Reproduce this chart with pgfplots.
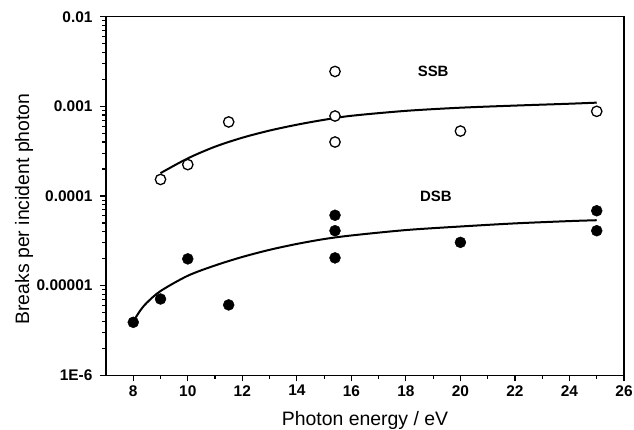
\documentclass[border=0pt]{standalone}
\usepackage{fontspec}
\setmainfont{Liberation Sans}
\usepackage{pgfplots}
\pgfplotsset{compat=1.18}
\begin{document}
\begin{tikzpicture}
\begin{axis}[
  scale only axis, width=518bp, height=358.6bp,
  xmin=7, xmax=26, ymode=log, log basis y=10, ymin=1e-6, ymax=1e-2,
  axis line style={line width=1.5bp},
  xtick={8,10,...,26}, minor x tick num=1,
  ytick={1e-6,1e-5,1e-4,1e-3,1e-2},
  yticklabels={1E-6,0.00001,0.0001,0.001,0.01},
  minor ytick={2e-6,3e-6,4e-6,5e-6,6e-6,7e-6,8e-6,9e-6,
               2e-5,3e-5,4e-5,5e-5,6e-5,7e-5,8e-5,9e-5,
               2e-4,3e-4,4e-4,5e-4,6e-4,7e-4,8e-4,9e-4,
               2e-3,3e-3,4e-3,5e-3,6e-3,7e-3,8e-3,9e-3},
  tick align=outside, xtick pos=left, ytick pos=left,
  major tick length=6bp, minor tick length=3.5bp,
  every tick/.style={line width=1.2bp, black},
  ticklabel style={font=\fontsize{15.5}{17}\selectfont\bfseries},
  xticklabel style={yshift=-0.5bp},
  yticklabel style={xshift=-4bp},
  /pgf/number format/assume math mode=true,
  xlabel={Photon energy / eV},
  ylabel={Breaks per incident photon},
  label style={font=\fontsize{19.5}{22}\selectfont},
  xlabel style={at={(rel axis cs:0.5,0)}, anchor=base, yshift=-49.7bp},
  ylabel style={at={(rel axis cs:0,0.5)}, anchor=center, xshift=-13bp, yshift=82bp},
]
% SSB fit
\addplot[black, line width=2bp, smooth] coordinates {
 (9,1.80e-4) (10,2.63e-4) (11,3.55e-4) (12,4.47e-4) (13,5.37e-4) (14,6.24e-4)
 (15,7.08e-4) (16,7.85e-4) (18,8.91e-4) (20,9.66e-4) (22,1.02e-3) (24,1.07e-3) (25,1.10e-3)};
% DSB fit
\addplot[black, line width=2bp, smooth] coordinates {
 (8,3.98e-6) (8.25,5.25e-6) (8.5,6.46e-6) (9,8.71e-6) (10,1.29e-5) (11,1.68e-5) (12,2.09e-5)
 (13,2.51e-5) (14,2.92e-5) (15,3.31e-5) (16,3.63e-5) (18,4.17e-5) (20,4.57e-5)
 (22,4.95e-5) (24,5.25e-5) (25,5.37e-5)};
% SSB data
\addplot[only marks, mark=*, mark size=5.2bp, mark options={draw=black, fill=white, line width=1.3bp}] coordinates {
 (9,1.53e-4) (10,2.24e-4) (11.5,6.7e-4) (15.4,2.45e-3) (15.4,7.8e-4) (15.4,4.0e-4) (20,5.3e-4) (25,8.8e-4)};
% DSB data
\addplot[only marks, mark=*, mark size=5.5bp, mark options={draw=black, fill=black}] coordinates {
 (8,3.9e-6) (9,7.1e-6) (10,1.99e-5) (11.5,6.1e-6) (15.4,6.1e-5) (15.4,4.1e-5) (15.4,2.04e-5)
 (20,3.04e-5) (25,6.85e-5) (25,4.1e-5)};
\node[font=\fontsize{15}{17}\selectfont\bfseries] at (axis cs:19,2.44e-3) {SSB};
\node[font=\fontsize{15}{17}\selectfont\bfseries] at (axis cs:19.1,1e-4) {DSB};
\coordinate (sw) at (rel axis cs:0,0);
\coordinate (ne) at (rel axis cs:1,1);
\end{axis}
\pgfresetboundingbox
\path[use as bounding box] ([xshift=-106bp,yshift=-54.7bp]sw) rectangle ([xshift=10bp,yshift=16.7bp]ne);
\end{tikzpicture}
\end{document}
